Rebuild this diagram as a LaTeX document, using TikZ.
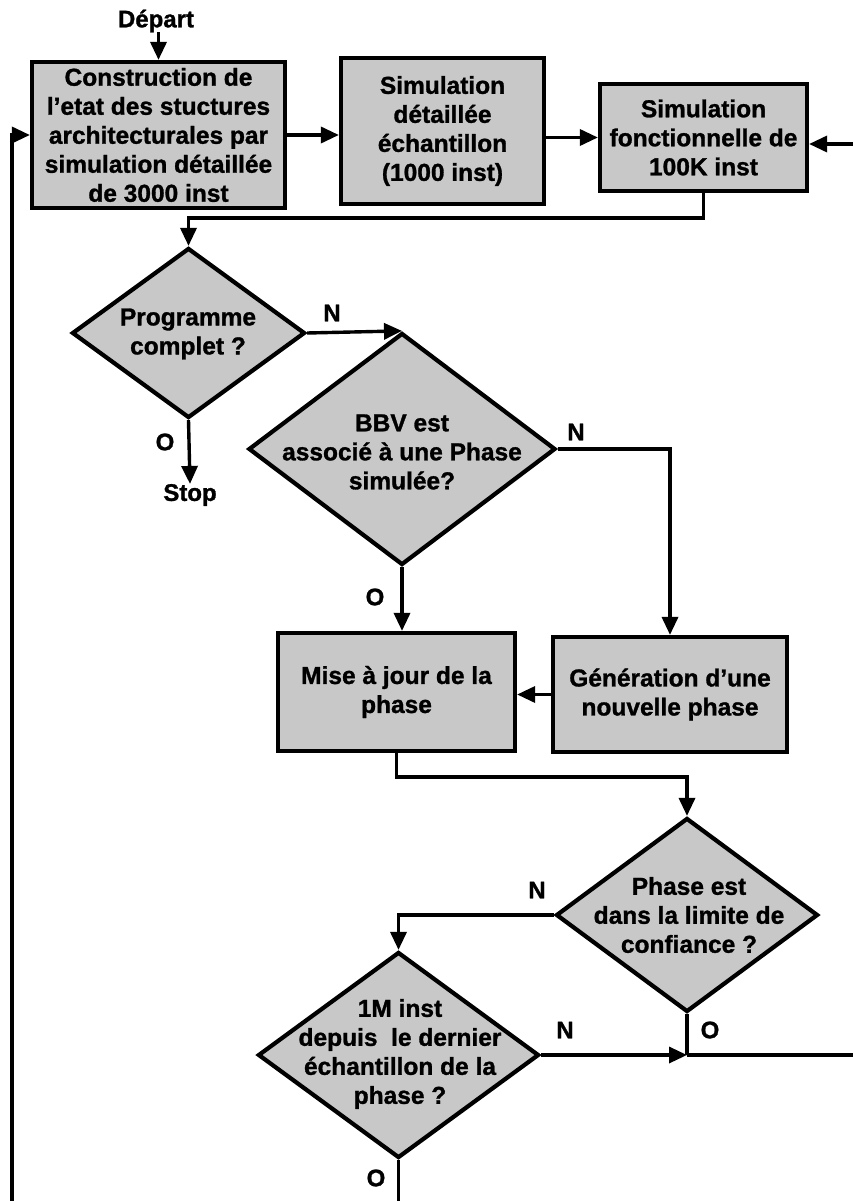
\documentclass[tikz,border=0pt]{standalone}
\usepackage{fontspec}
\setmainfont{Liberation Sans}[BoldFeatures={FakeBold=1.2}]
\usetikzlibrary{arrows.meta,shapes.geometric,calc}
\definecolor{boxgray}{RGB}{200,200,200}
\begin{document}
\begin{tikzpicture}[x=1pt,y=-1pt,
  txt/.style={font=\bfseries\fontsize{24.5}{29}\selectfont, align=center, inner sep=0pt},
  lbl/.style={font=\bfseries\fontsize{24}{28}\selectfont, inner sep=0pt},
  box/.style={draw, line width=4.2pt, fill=boxgray, rectangle, inner sep=0pt, align=center, font=\bfseries\fontsize{24.5}{29}\selectfont},
  dia/.style={draw, line width=4.2pt, fill=boxgray, diamond, inner sep=0pt},
  conn/.style={line width=3.4pt},
  arr/.style={conn, -{Triangle[length=18pt,width=16pt]}},
]
\fill[white] (0,0) rectangle (853,1201);
\useasboundingbox (0,0) rectangle (853,1201);

% boxes
\node[box, minimum width=253pt, minimum height=146pt] (box1) at (158.5,135)
  {Construction de\\l'etat des stuctures\\architecturales par\\simulation d\'etaill\'ee\\de 3000 inst};
\node[box, minimum width=203pt, minimum height=146pt] (box2) at (442.5,131)
  {Simulation\\d\'etaill\'ee\\\'echantillon\\(1000 inst)};
\node[box, minimum width=207pt, minimum height=107pt] (box3) at (703.5,137.5)
  {Simulation\\fonctionnelle de\\100K inst};
\node[box, minimum width=237pt, minimum height=118pt] (box4) at (396.5,692)
  {Mise \`a jour de la\\phase};
\node[box, minimum width=234pt, minimum height=115pt] (box5) at (670,694.5)
  {G\'en\'eration d'une\\nouvelle phase};

% diamonds
\node[dia, minimum width=233pt, minimum height=170pt] (dia1) at (188.5,333) {};
\node[txt] (dia1t) at (188,334) {Programme\\complet ?};
\node[dia, minimum width=307pt, minimum height=232pt] (dia2) at (402,449) {};
\node[txt] (dia2t) at (402,452) {BBV est\\associ\'e \`a une Phase\\simul\'ee?};
\node[dia, minimum width=262pt, minimum height=194pt] (dia3) at (687,915) {};
\node[txt] (dia3t) at (689,915) {Phase est\\dans la limite de\\confiance ?};
\node[dia, minimum width=281pt, minimum height=206pt] (dia4) at (398.5,1055) {};
\node[txt] (dia4t) at (400,1054) {1M inst\\depuis\ \ le dernier\\\'echantillon de la\\phase ?};

% terminal texts
\node[txt, font=\bfseries\fontsize{24}{28}\selectfont] (dep) at (156,21) {D\'epart};
\node[txt, font=\bfseries\fontsize{24}{28}\selectfont] (stop) at (190,495) {Stop};

% labels
\node[lbl] (n1) at (332,313) {N};
\node[lbl] (o1) at (165,442) {O};
\node[lbl] (n2) at (576,432) {N};
\node[lbl] (o2) at (375,597) {O};
\node[lbl] (n3) at (537,890) {N};
\node[lbl] (o3) at (710,1030) {O};
\node[lbl] (n4) at (565,1030) {N};
\node[lbl] (o4) at (376,1178) {O};

% coordinates
\coordinate (rin) at (853,144);
\coordinate (j1) at (188.5,218);
\coordinate (j2) at (687,777);
\coordinate (j3) at (687,1055);
\coordinate (rout) at (853,1055);
\coordinate (bout) at (398.5,1201);
\coordinate (lb) at (12,1201);

% connectors
\draw[arr] (dep.south -| box1.north) -- (box1.north);
\draw[arr] (box1.east) -- (box1.east -| box2.west);
\draw[arr] (box2.east |- box3.west) -- (box3.west);
\draw[arr] (rin) -- (rin -| box3.east);
\draw[arr] (box3.south) |- (j1) -- (dia1.north);
\draw[arr] (dia1.east) -- (dia2.north);
\draw[arr] (dia1.south) -- (stop.north);
\draw[arr] (dia2.east) -| (box5.north);
\draw[arr] (dia2.south) -- (dia2.south |- box4.north);
\draw[arr] (box5.west) -- (box5.west -| box4.east);
\draw[arr] (box4.south) |- (j2) -- (dia3.north);
\draw[arr] (dia3.west) -| (dia4.north);
\draw[conn] (dia3.south) -- (j3);
\draw[arr] (dia4.east) -- (j3);
\draw[conn] (j3) -- (rout);
\draw[conn] (dia4.south) -- (bout);
\draw[arr] (lb) |- (box1.west);
\end{tikzpicture}
\end{document}
